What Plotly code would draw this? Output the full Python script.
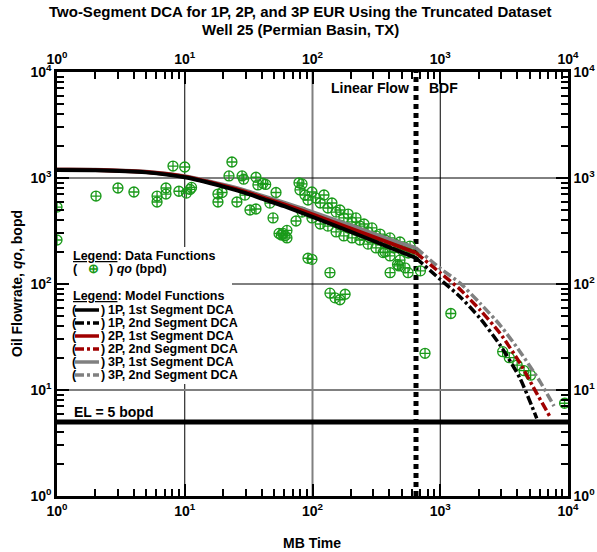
import plotly.graph_objects as go

# ---------------- data ----------------
# MB time and oil rate (bopd) of the truncated production dataset
t_data = [1.0, 1.0, 2.02, 3.0, 4.0, 6.07, 6.07, 7.13, 7.13, 8.09, 10.0, 9.0, 10.3, 11.0, 11.3,
          18.2, 18.2, 19.6, 22.2, 23.4, 25.6, 28.1, 28.9, 29.6, 32.4, 36.1, 36.1, 37.4, 41.0,
          43.0, 46.4, 49.1, 51.8, 54.7, 57.0, 58.8, 61.0, 63.1, 63.1, 74.3, 78.4, 82.8, 92.2,
          99.0, 137, 137, 150, 164, 180,
          79.8, 87.3, 92.2, 99, 106, 115, 123, 132, 142, 153, 164, 176, 190, 204, 219, 235,
          253, 272, 292, 314, 338, 370, 404, 443, 484, 530, 580, 623,
          82.8, 99, 115, 132, 153, 176, 204, 235, 272, 314, 370, 404, 484, 530,
          164, 190, 215, 244, 282, 325, 375, 434, 501, 562,
          357, 405, 463, 475, 560, 700, 760, 1210, 3080, 3470, 4000, 4530, 5100, 9400]
q_data = [532, 260, 676, 805, 738, 676, 594, 805, 706, 1297, 1270, 750, 720, 780, 815,
          706, 594, 730, 1045, 1416, 594, 1045, 975, 690, 499, 510, 1016, 860, 890,
          870, 580, 420, 730, 300, 290, 300, 285, 320, 272, 393, 900, 880, 175,
          171, 128, 82, 74, 71, 80,
          771, 691, 620, 738, 648, 581, 691, 521, 581, 477, 499, 420, 457, 385, 420, 352,
          368, 310, 338, 284, 296, 260, 272, 238, 249, 219, 228, 200,
          477, 420, 368, 352, 310, 284, 272, 260, 238, 219, 200, 184, 168, 142,
          360, 338, 323, 290, 272, 260, 238, 219, 209, 196,
          198, 128, 153, 148, 128, 133, 22.2, 52.7, 23.0, 20.2, 17.2, 15.2, 13.8, 7.5]

# 1st segment (linear flow) model rates
t_seg1 = [1, 2, 5, 10, 20, 30, 40, 60, 100, 200, 400, 646]
q1p_seg1 = [1190, 1185, 1130, 1015, 830, 721, 640, 542, 430, 310, 222, 176]
q2p_seg1 = [1196, 1192, 1139, 1027, 847, 740, 660, 564, 454, 333, 244, 197]
q3p_seg1 = [1202, 1199, 1148, 1039, 863, 760, 681, 585, 477, 357, 264, 219]

# 2nd segment (boundary-dominated flow) model rates
t1p_seg2 = [646, 995, 1428, 2048, 2937, 4210, 5690]
q1p_seg2 = [176, 111, 75.9, 47.5, 26.6, 12.9, 5.4]
t2p_seg2 = [646, 995, 1428, 2048, 2937, 4210, 5690, 7230]
q2p_seg2 = [197, 128, 89, 56.9, 34.3, 17.9, 9.3, 5.6]
t3p_seg2 = [646, 995, 1428, 2048, 2937, 4210, 6040, 7770]
q3p_seg2 = [219, 141, 102, 65.8, 41.0, 23.0, 12.0, 7.06]

t_boundary = 646        # end of linear flow / start of BDF
q_limit = 5             # economic limit, bopd

x_ticks = [1, 10, 100, 1000, 10000]
x_ticktext = ["10<sup>0</sup>", "10<sup>1</sup>", "10<sup>2</sup>", "10<sup>3</sup>", "10<sup>4</sup>"]
y_ticks = [1, 10, 100, 1000, 10000]
y_ticktext = ["10<sup>0</sup>", "10<sup>1</sup>", "10<sup>2</sup>", "10<sup>3</sup>", "10<sup>4</sup>"]
minor_vals = [m * d for d in (1, 10, 100, 1000) for m in range(2, 10)]

# ---------------- styling ----------------
BLACK, RED, GRAY, GREEN = "#000000", "#a00000", "#808080", "#1a9a1a"
FONT = "Arial"
SEG2_DASH = "9px,3px,3px,3px"

W, H = 597, 552
ML, MR, MT, MB = 57, 29, 72, 56
PW, PH = W - ML - MR, H - MT - MB


def px(x):
    return (x - ML) / PW


def py(y):
    return (H - MB - y) / PH


fig = go.Figure()

# decade grid lines
for xv, col, w in [(10, BLACK, 1), (100, GRAY, 2), (1000, BLACK, 1)]:
    fig.add_trace(go.Scatter(x=[xv, xv], y=[1, 10000], mode="lines",
                             line=dict(color=col, width=w), hoverinfo="skip", showlegend=False))
for yv, col, w in [(1000, BLACK, 1), (100, BLACK, 1), (10, GRAY, 2)]:
    fig.add_trace(go.Scatter(x=[1, 10000], y=[yv, yv], mode="lines",
                             line=dict(color=col, width=w), hoverinfo="skip", showlegend=False))

# economic limit
fig.add_trace(go.Scatter(x=[1, 10000], y=[q_limit, q_limit], mode="lines",
                         line=dict(color=BLACK, width=5), showlegend=False))

# flow regime boundary
fig.add_trace(go.Scatter(x=[t_boundary, t_boundary], y=[1, 10000], mode="lines",
                         line=dict(color=BLACK, width=5, dash="5px,4px"), showlegend=False))

# data
fig.add_trace(go.Scatter(x=t_data, y=q_data, mode="markers", name="qo (bpd)",
                         marker=dict(symbol="circle-cross-open", size=10, color=GREEN,
                                     line=dict(width=1.3, color=GREEN)),
                         showlegend=False))

# model curves
for tt, qq, col, dash, name in [
    (t_seg1, q3p_seg1, GRAY, "solid", "3P, 1st Segment DCA"),
    (t_seg1, q2p_seg1, RED, "solid", "2P, 1st Segment DCA"),
    (t_seg1, q1p_seg1, BLACK, "solid", "1P, 1st Segment DCA"),
    (t3p_seg2, q3p_seg2, GRAY, SEG2_DASH, "3P, 2nd Segment DCA"),
    (t2p_seg2, q2p_seg2, RED, SEG2_DASH, "2P, 2nd Segment DCA"),
    (t1p_seg2, q1p_seg2, BLACK, SEG2_DASH, "1P, 2nd Segment DCA"),
]:
    fig.add_trace(go.Scatter(x=tt, y=qq, mode="lines", name=name,
                             line=dict(color=col, width=4 if dash == "solid" else 3.5,
                                       dash=dash, shape="spline", smoothing=0.6),
                             showlegend=False))

# carrier for the mirrored top/right axes
fig.add_trace(go.Scatter(x=[1], y=[1], xaxis="x2", yaxis="y2", mode="markers",
                         marker=dict(opacity=0), hoverinfo="skip", showlegend=False))

tickfont = dict(family=FONT, size=14, color=BLACK, weight="bold")
common = dict(type="log", range=[0, 4], showgrid=False, zeroline=False, automargin=False,
              ticks="inside", ticklen=12, tickwidth=2, tickcolor=BLACK,
              showline=True, linewidth=2.5, linecolor=BLACK, tickfont=tickfont,
              minor=dict(tickvals=minor_vals, ticks="inside", ticklen=7, tickwidth=2,
                         tickcolor=BLACK, showgrid=False))

fig.update_layout(
    width=W, height=H,
    margin=dict(l=ML, r=MR, t=MT, b=MB, autoexpand=False),
    paper_bgcolor="white", plot_bgcolor="white",
    font=dict(family=FONT, color=BLACK),
    xaxis=dict(common, tickvals=x_ticks, ticktext=x_ticktext),
    yaxis=dict(common, tickvals=y_ticks, ticktext=y_ticktext),
    xaxis2=dict(common, tickvals=x_ticks, ticktext=x_ticktext, overlaying="x", side="top",
                anchor="y"),
    yaxis2=dict(common, tickvals=y_ticks, ticktext=y_ticktext, overlaying="y", side="right",
                anchor="x"),
    showlegend=False,
)

ann = []


def text(x, y, s, size=13, xanchor="left", **kw):
    ann.append(dict(x=px(x), y=py(y), xref="paper", yref="paper", text=s, showarrow=False,
                    xanchor=xanchor, yanchor="middle",
                    font=dict(family=FONT, size=size, color=BLACK, weight="bold"), **kw))


# titles
text(300, 12, "Two-Segment DCA for 1P, 2P, and 3P EUR Using the Truncated Dataset", 15, "center")
text(300, 30, "Well 25 (Permian Basin, TX)", 15, "center")
text(312, 543, "MB Time", 14, "center")
text(17, 284, "Oil Flowrate, <i>qo</i>, bopd", 14, "center", textangle=-90)

# regime labels
text(370, 88, "Linear Flow", 14, "center")
text(443, 88, "BDF", 14, "center")
text(72, 412, "EL = 5 bopd", 14)

# legend panel
shapes = [dict(type="rect", xref="paper", yref="paper", x0=px(69), x1=px(232),
               y0=py(384), y1=py(247), fillcolor="white", line=dict(width=0), layer="above")]
text(71, 256, "<u>Legend</u>: Data Functions", 12.5)
text(71, 269, "(   <span style='color:%s'>⊕</span>   ) <i>qo</i> (bpd)" % GREEN, 12.5)
text(71, 296, "<u>Legend</u>: Model Functions", 12.5)
entries = [("1P, 1st Segment DCA", BLACK, "solid"), ("1P, 2nd Segment DCA", BLACK, SEG2_DASH),
           ("2P, 1st Segment DCA", RED, "solid"), ("2P, 2nd Segment DCA", RED, SEG2_DASH),
           ("3P, 1st Segment DCA", GRAY, "solid"), ("3P, 2nd Segment DCA", GRAY, SEG2_DASH)]
for i, (name, col, dash) in enumerate(entries):
    yy = 310 + i * 13
    text(70, yy, "(", 12.5)
    text(99, yy, ")", 12.5)
    text(106, yy, name, 12.5)
    shapes.append(dict(type="line", xref="paper", yref="paper", x0=px(75), x1=px(99),
                       y0=py(yy), y1=py(yy), line=dict(color=col, width=3.5, dash=dash),
                       layer="above"))

fig.update_layout(annotations=ann, shapes=shapes)
fig.write_html("out.html")
